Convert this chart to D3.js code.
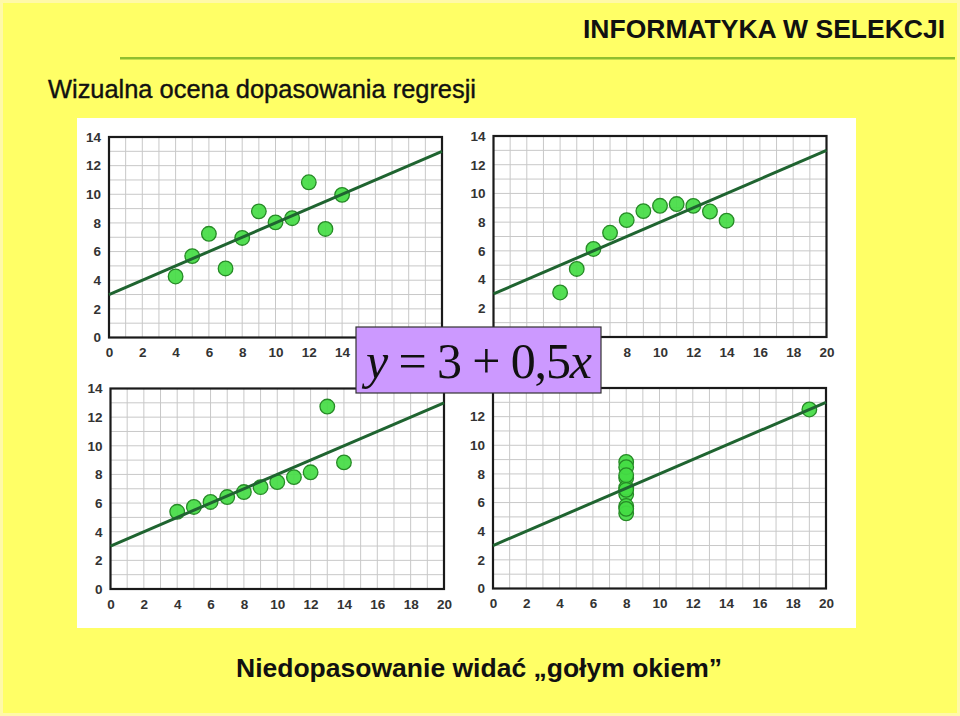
<!DOCTYPE html>
<html><head><meta charset="utf-8">
<script src="https://cdn.jsdelivr.net/npm/d3@7"></script>
<style>html,body{margin:0;padding:0;background:#ffff66;}svg{display:block;}</style>
</head><body>
<svg id="c" width="960" height="716"></svg>
<script>
// Data (Anscombe-type quartet)
const xI   = [10, 8, 13, 9, 11, 14, 6, 4, 12, 7, 5];
const yI   = [8.04, 6.95, 7.58, 8.81, 8.33, 9.96, 7.24, 4.26, 10.84, 4.82, 5.68];
const yII  = [9.14, 8.14, 8.74, 8.77, 9.26, 8.10, 6.13, 3.10, 9.13, 7.26, 4.74];
const yIII = [7.46, 6.77, 12.74, 7.11, 7.81, 8.84, 6.08, 5.39, 8.15, 6.42, 5.73];
const xIV  = [8, 8, 8, 8, 8, 8, 8, 19, 8, 8, 8];
const yIV  = [6.58, 5.76, 7.71, 8.84, 8.47, 7.04, 5.25, 12.50, 5.56, 7.91, 6.89];
const xTicks = [0, 2, 4, 6, 8, 10, 12, 14, 16, 18, 20];
const yTicks = [0, 2, 4, 6, 8, 10, 12, 14];
const fitIntercept = 3, fitSlope = 0.5;
const titleTop = "INFORMATYKA W SELEKCJI";
const titleMain = "Wizualna ocena dopasowania regresji";
const footer = "Niedopasowanie widać „gołym okiem”";

const svg = d3.select("#c");
// slide background
svg.append("rect").attr("x",0).attr("y",0).attr("width",960).attr("height",716).attr("fill","#fff9a8");
svg.append("rect").attr("x",3).attr("y",3).attr("width",954).attr("height",710).attr("fill","#ffff66");

svg.append("text").attr("x",583).attr("y",38)
  .attr("textLength",362).attr("lengthAdjust","spacingAndGlyphs")
  .attr("font-family","Liberation Sans, Arial, sans-serif").attr("font-weight","bold")
  .attr("font-size",25).attr("fill","#111").text(titleTop);
svg.append("rect").attr("x",120).attr("y",57).attr("width",835).attr("height",2.5).attr("fill","#8fbf2f");
svg.append("text").attr("x",48).attr("y",98)
  .attr("textLength",428).attr("lengthAdjust","spacingAndGlyphs")
  .attr("font-family","Liberation Sans, Arial, sans-serif")
  .attr("font-size",26).attr("fill","#111").attr("stroke","#111").attr("stroke-width",0.4).text(titleMain);

// white picture area
svg.append("rect").attr("x",77).attr("y",118).attr("width",779).attr("height",510).attr("fill","#ffffff");

const panels = [
  {xs: xI,  ys: yI,   x0:109,   x1:442,   yt:137, yb:337.5},
  {xs: xI,  ys: yII,  x0:493.5, x1:826.5, yt:136, yb:337},
  {xs: xI,  ys: yIII, x0:110.5, x1:444,   yt:388.5, yb:589},
  {xs: xIV, ys: yIV,  x0:493,   x1:826,   yt:388, yb:588.5}
];

panels.forEach(p => {
  const x = d3.scaleLinear().domain([0,20]).range([p.x0,p.x1]);
  const y = d3.scaleLinear().domain([0,14]).range([p.yb,p.yt]);
  const g = svg.append("g");
  g.append("rect").attr("x",p.x0).attr("y",p.yt).attr("width",p.x1-p.x0).attr("height",p.yb-p.yt).attr("fill","#fff");
  // grid
  g.selectAll(".vg").data(d3.range(1,20)).join("line")
    .attr("x1",d=>x(d)).attr("x2",d=>x(d)).attr("y1",p.yt).attr("y2",p.yb)
    .attr("stroke","#c8c8c8").attr("stroke-width",1);
  g.selectAll(".hg").data(d3.range(1,14)).join("line")
    .attr("y1",d=>y(d)).attr("y2",d=>y(d)).attr("x1",p.x0).attr("x2",p.x1)
    .attr("stroke","#c8c8c8").attr("stroke-width",1);
  // axes labels
  const xa = d3.axisBottom(x).tickValues(xTicks).tickSize(0).tickPadding(10);
  const ya = d3.axisLeft(y).tickValues(yTicks).tickSize(0).tickPadding(8);
  const gx = g.append("g").attr("transform",`translate(0,${p.yb})`).call(xa);
  const gy = g.append("g").attr("transform",`translate(${p.x0},0)`).call(ya);
  [gx,gy].forEach(a=>{
    a.select(".domain").remove();
    a.selectAll("text").attr("font-family","Liberation Sans, Arial, sans-serif")
      .attr("font-weight","bold").attr("font-size",13.5).attr("fill","#333");
  });
  // frame
  g.append("rect").attr("x",p.x0).attr("y",p.yt).attr("width",p.x1-p.x0).attr("height",p.yb-p.yt)
    .attr("fill","none").attr("stroke","#1a1a1a").attr("stroke-width",2.2);
  // points
  const pts = p.xs.map((v,i)=>({x:v,y:p.ys[i]}));
  g.selectAll("circle").data(pts).join("circle")
    .attr("cx",d=>x(d.x)).attr("cy",d=>y(d.y)).attr("r",7.3)
    .attr("fill","#44dc44").attr("fill-opacity",0.92).attr("stroke","#268a26").attr("stroke-width",1.3);
  // fit line
  g.append("line").attr("x1",x(0)).attr("y1",y(fitIntercept)).attr("x2",x(20)).attr("y2",y(fitIntercept+fitSlope*20))
    .attr("stroke","#1f6430").attr("stroke-width",3);
});

// equation box
const eq = svg.append("g");
eq.append("rect").attr("x",356).attr("y",327).attr("width",245).attr("height",66)
  .attr("fill","#cc99ff").attr("stroke","#333").attr("stroke-width",1.2);
const t = eq.append("text").attr("x",366).attr("y",378)
  .attr("textLength",226).attr("lengthAdjust","spacing")
  .attr("font-family","Liberation Serif, Times New Roman, serif").attr("font-size",50).attr("fill","#111");
t.append("tspan").attr("font-style","italic").text("y");
t.append("tspan").text(" = 3 + 0,5");
t.append("tspan").attr("font-style","italic").text("x");

svg.append("text").attr("x",479).attr("y",677).attr("text-anchor","middle")
  .attr("textLength",486).attr("lengthAdjust","spacingAndGlyphs")
  .attr("font-family","Liberation Sans, Arial, sans-serif").attr("font-weight","bold")
  .attr("font-size",26.5).attr("fill","#111").text(footer);
</script>
</body></html>
